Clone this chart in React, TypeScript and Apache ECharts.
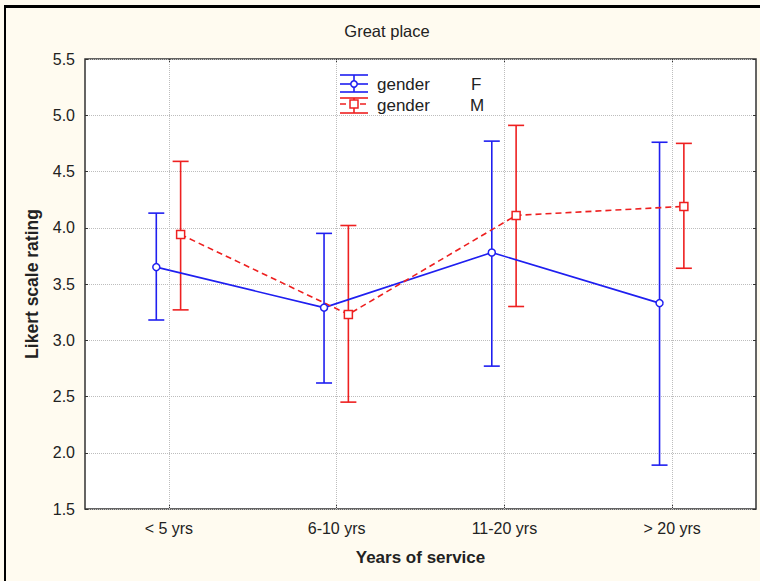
import React, { useEffect, useRef } from "react";
import * as echarts from "echarts";

const categories = ["< 5 yrs", "6-10 yrs", "11-20 yrs", "> 20 yrs"];
const femaleMean = [3.65, 3.29, 3.78, 3.33];
const femaleLow = [3.18, 2.62, 2.77, 1.89];
const femaleHigh = [4.13, 3.95, 4.77, 4.76];
const maleMean = [3.94, 3.23, 4.11, 4.19];
const maleLow = [3.27, 2.45, 3.3, 3.64];
const maleHigh = [4.59, 4.02, 4.91, 4.75];
const yTicks = { min: 1.5, max: 5.5, step: 0.5 };

const BLUE = "#1f1ff0";
const RED = "#ee2020";
const FONT = "'Liberation Sans Narrow', 'Liberation Sans', Arial, sans-serif";
const BOLD = "'Liberation Sans', Arial, sans-serif";

function errorSeries(low: number[], high: number[], offset: number, color: string, withGrid: boolean) {
  const data = low.map((l, i) => [i + 1 + offset, l, high[i]]);
  const s: any = {
    type: "custom",
    xAxisIndex: 1,
    z: 3,
    silent: true,
    data,
    renderItem: (params: any, api: any) => {
      const x = api.value(0);
      const lo = api.coord([x, api.value(1)]);
      const hi = api.coord([x, api.value(2)]);
      const hw = 8;
      const st = { stroke: color, lineWidth: 1.6 };
      return {
        type: "group",
        children: [
          { type: "line", shape: { x1: lo[0], y1: lo[1], x2: hi[0], y2: hi[1] }, style: st },
          { type: "line", shape: { x1: lo[0] - hw, y1: lo[1], x2: lo[0] + hw, y2: lo[1] }, style: st },
          { type: "line", shape: { x1: hi[0] - hw, y1: hi[1], x2: hi[0] + hw, y2: hi[1] }, style: st },
        ],
      };
    },
  };
  if (withGrid) {
    s.markLine = {
      silent: true,
      symbol: ["none", "none"],
      label: { show: false },
      lineStyle: { type: "dotted", color: "#bdbdbd", width: 1 },
      data: categories.map((_, i) => ({ xAxis: i + 1 })),
      z: 1,
    };
  }
  return s;
}

export default function App() {
  const ref = useRef<HTMLDivElement>(null);
  useEffect(() => {
    if (!ref.current) return;
    const chart = echarts.init(ref.current, null, { renderer: "svg" });
    const blueOff = -0.075;
    const redOff = 0.07;
    const option: any = {
      animation: false,
      backgroundColor: "#fffbf0",
      grid: {
        left: 85,
        top: 59,
        width: 671,
        height: 450,
        show: true,
        backgroundColor: "#ffffff",
        borderColor: "#333333",
        borderWidth: 1.5,
      },
      xAxis: [
        {
          type: "category",
          data: categories,
          boundaryGap: true,
          position: "bottom",
          axisLine: { show: false },
          axisTick: { show: true, inside: true, alignWithLabel: true, length: 4, lineStyle: { color: "#333" } },
          axisLabel: { fontFamily: FONT, fontSize: 16, color: "#222", margin: 11 },
          splitLine: { show: false },
          name: "Years of service",
          nameLocation: "middle",
          nameGap: 40,
          nameTextStyle: { fontFamily: BOLD, fontWeight: "bold", fontSize: 17, color: "#222" },
        },
        {
          type: "value",
          min: 0.5,
          max: 4.5,
          show: false,
        },
        {
          type: "category",
          data: categories,
          boundaryGap: true,
          position: "top",
          axisLine: { show: false },
          axisTick: { show: true, inside: true, alignWithLabel: true, length: 4, lineStyle: { color: "#333" } },
          axisLabel: { show: false },
          splitLine: { show: false },
        },
      ],
      yAxis: [
        {
          type: "value",
          min: yTicks.min,
          max: yTicks.max,
          interval: yTicks.step,
          axisLine: { show: false },
          axisTick: { show: true, inside: true, length: 3, lineStyle: { color: "#333" } },
          axisLabel: {
            fontFamily: FONT,
            fontSize: 16,
            color: "#222",
            margin: 10,
            formatter: (v: number) => v.toFixed(1),
          },
          splitLine: { show: true, lineStyle: { type: "dotted", color: "#bdbdbd", width: 1 } },
          name: "Likert scale rating",
          nameLocation: "middle",
          nameGap: 44,
          nameRotate: 90,
          nameTextStyle: { fontFamily: BOLD, fontWeight: "bold", fontSize: 17.5, color: "#222" },
        },
        {
          type: "value",
          min: yTicks.min,
          max: yTicks.max,
          interval: yTicks.step,
          position: "right",
          axisLine: { show: false },
          axisTick: { show: true, inside: true, length: 3, lineStyle: { color: "#333" } },
          axisLabel: { show: false },
          splitLine: { show: false },
        },
      ],
      series: [
        errorSeries(femaleLow, femaleHigh, blueOff, BLUE, true),
        errorSeries(maleLow, maleHigh, redOff, RED, false),
        {
          type: "line",
          name: "gender F",
          xAxisIndex: 1,
          z: 5,
          data: femaleMean.map((v, i) => [i + 1 + blueOff, v]),
          symbol: "circle",
          symbolSize: 7,
          lineStyle: { color: BLUE, width: 1.6, type: "solid" },
          itemStyle: { color: "#ffffff", borderColor: BLUE, borderWidth: 1.5 },
        },
        {
          type: "line",
          name: "gender M",
          xAxisIndex: 1,
          z: 5,
          data: maleMean.map((v, i) => [i + 1 + redOff, v]),
          symbol: "rect",
          symbolSize: 8,
          lineStyle: { color: RED, width: 1.6, type: [6, 4] },
          itemStyle: { color: "#ffffff", borderColor: RED, borderWidth: 1.5 },
        },
      ],
      graphic: [
        { type: "rect", shape: { x: 4, y: 5, width: 760, height: 3 }, style: { fill: "#000" }, silent: true },
        { type: "rect", shape: { x: 4, y: 5, width: 2, height: 580 }, style: { fill: "#000" }, silent: true },
        {
          type: "text",
          x: 387,
          y: 31,
          style: { text: "Great place", font: `16.5px ${FONT}`, fill: "#222", align: "center", verticalAlign: "middle" },
        },
        // legend F
        { type: "line", shape: { x1: 340, y1: 75, x2: 368, y2: 75 }, style: { stroke: BLUE, lineWidth: 1.6 } },
        { type: "line", shape: { x1: 340, y1: 84, x2: 368, y2: 84 }, style: { stroke: BLUE, lineWidth: 1.6 } },
        { type: "line", shape: { x1: 340, y1: 92, x2: 368, y2: 92 }, style: { stroke: BLUE, lineWidth: 1.6 } },
        { type: "line", shape: { x1: 354, y1: 75, x2: 354, y2: 92 }, style: { stroke: BLUE, lineWidth: 1.6 } },
        { type: "circle", shape: { cx: 354, cy: 84, r: 3.2 }, style: { fill: "#fff", stroke: BLUE, lineWidth: 1.5 } },
        {
          type: "text",
          x: 377,
          y: 84,
          style: { text: "gender", font: `17px ${FONT}`, fill: "#222", verticalAlign: "middle" },
        },
        {
          type: "text",
          x: 471,
          y: 84,
          style: { text: "F", font: `17px ${FONT}`, fill: "#222", verticalAlign: "middle" },
        },
        // legend M
        { type: "line", shape: { x1: 340, y1: 98, x2: 368, y2: 98 }, style: { stroke: RED, lineWidth: 1.6 } },
        { type: "line", shape: { x1: 340, y1: 104, x2: 368, y2: 104 }, style: { stroke: RED, lineWidth: 1.6, lineDash: [6, 4] } },
        { type: "line", shape: { x1: 340, y1: 113, x2: 368, y2: 113 }, style: { stroke: RED, lineWidth: 1.6 } },
        { type: "line", shape: { x1: 354, y1: 98, x2: 354, y2: 113 }, style: { stroke: RED, lineWidth: 1.6 } },
        { type: "rect", shape: { x: 350, y: 100, width: 8, height: 8 }, style: { fill: "#fff", stroke: RED, lineWidth: 1.5 } },
        {
          type: "text",
          x: 377,
          y: 105,
          style: { text: "gender", font: `17px ${FONT}`, fill: "#222", verticalAlign: "middle" },
        },
        {
          type: "text",
          x: 470,
          y: 105,
          style: { text: "M", font: `17px ${FONT}`, fill: "#222", verticalAlign: "middle" },
        },
      ],
    };
    chart.setOption(option);
    return () => chart.dispose();
  }, []);
  return (
    <div
      ref={ref}
      style={{ position: "absolute", left: 0, top: 0, width: 760, height: 581 }}
    />
  );
}
